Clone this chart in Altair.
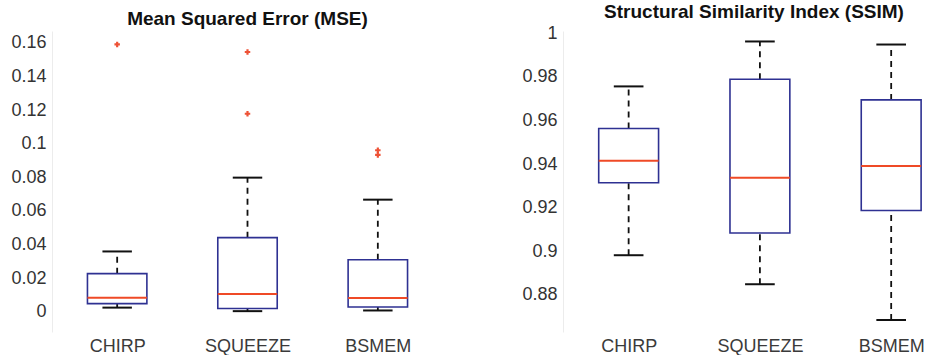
import json
import altair as alt
import pandas as pd

categories = ["CHIRP", "SQUEEZE", "BSMEM"]

mse_whisker_low = [0.0025, 0.0004, 0.0008]
mse_q1 = [0.0049, 0.0020, 0.0029]
mse_median = [0.0084, 0.0106, 0.0082]
mse_q3 = [0.0227, 0.0441, 0.0310]
mse_whisker_high = [0.0359, 0.0798, 0.0667]
mse_outlier_cat = ["CHIRP", "SQUEEZE", "SQUEEZE", "BSMEM", "BSMEM"]
mse_outlier_val = [0.159, 0.1545, 0.1178, 0.0961, 0.0933]

ssim_whisker_low = [0.8982, 0.8849, 0.8685]
ssim_q1 = [0.9314, 0.9084, 0.9187]
ssim_median = [0.9415, 0.9337, 0.9391]
ssim_q3 = [0.9563, 0.9789, 0.9694]
ssim_whisker_high = [0.9756, 0.9962, 0.9948]
ssim_outlier_cat = []
ssim_outlier_val = []

mse_ticks = [0, 0.02, 0.04, 0.06, 0.08, 0.1, 0.12, 0.14, 0.16]
ssim_ticks = [0.88, 0.9, 0.92, 0.94, 0.96, 0.98, 1.0]

BOX = "#2e3192"
MED = "#ef4a26"
OUT = "#ee5236"
FONT = "Liberation Sans"

label_expr = json.dumps(categories) + "[datum.value - 1]"


def panel(title, low, q1, med, q3, high, ocat, oval, ydomain, yticks, xdomain, width):
    stats = pd.DataFrame({
        "cat": categories,
        "pos": [i + 1 for i in range(len(categories))],
        "low": low, "q1": q1, "med": med, "q3": q3, "high": high,
    })
    outl = pd.DataFrame({
        "cat": ocat,
        "pos": [categories.index(c) + 1 for c in ocat],
        "val": oval,
    })
    xscale = alt.Scale(domain=xdomain, nice=False, zero=False)
    yscale = alt.Scale(domain=ydomain, nice=False, zero=False)
    xaxis = alt.Axis(values=[1, 2, 3], labelExpr=label_expr, title=None, ticks=False,
                     domain=False, grid=False, labelFontSize=18, labelFont=FONT,
                     labelColor="#3a3a3a", labelPadding=5)
    yaxis = alt.Axis(values=yticks, tickCount=len(yticks), format="~g", title=None,
                     ticks=False, domain=True, domainColor="#ececec", grid=False,
                     labelFontSize=18, labelFont=FONT, labelColor="#333333",
                     labelPadding=6, labelOverlap=False, labelSeparation=0)

    def X(f):
        return alt.X(f, type="quantitative", scale=xscale, axis=xaxis)

    def Y(f):
        return alt.Y(f, type="quantitative", scale=yscale, axis=yaxis)

    base = alt.Chart(stats).transform_calculate(
        bl="datum.pos - 0.228", br="datum.pos + 0.228",
        cl="datum.pos - 0.113", cr="datum.pos + 0.113",
    )
    upper_wh = base.mark_rule(color="#111111", strokeWidth=1.8, strokeDash=[6, 5]).encode(
        x=X("pos"), y=Y("q3"), y2="high:Q")
    lower_wh = base.mark_rule(color="#111111", strokeWidth=1.8, strokeDash=[6, 5]).encode(
        x=X("pos"), y=Y("low"), y2="q1:Q")
    cap_hi = base.mark_rule(color="#111111", strokeWidth=2).encode(
        x=X("cl"), x2="cr:Q", y=Y("high"))
    cap_lo = base.mark_rule(color="#111111", strokeWidth=2).encode(
        x=X("cl"), x2="cr:Q", y=Y("low"))
    box = base.mark_rect(fill="white", stroke=BOX, strokeWidth=1.6).encode(
        x=X("bl"), x2="br:Q", y=Y("q1"), y2="q3:Q")
    median = base.mark_rule(color=MED, strokeWidth=2).encode(
        x=X("bl"), x2="br:Q", y=Y("med"))
    layers = [upper_wh, lower_wh, cap_hi, cap_lo, box, median]
    if len(outl):
        pts = alt.Chart(outl).mark_point(shape="cross", filled=True, color=OUT,
                                         size=30, opacity=1).encode(
            x=X("pos"), y=Y("val"))
        layers.append(pts)
    return alt.layer(*layers).properties(
        width=width, height=301,
        title=alt.TitleParams(title, fontSize=19, fontWeight="bold", font=FONT,
                              color="#111111", anchor="middle", offset=2),
    )


left = panel("Mean Squared Error (MSE)", mse_whisker_low, mse_q1, mse_median, mse_q3,
             mse_whisker_high, mse_outlier_cat, mse_outlier_val,
             [-0.012, 0.167], mse_ticks, [0.5, 3.5], 391)
right = panel("Structural Similarity Index (SSIM)", ssim_whisker_low, ssim_q1, ssim_median,
              ssim_q3, ssim_whisker_high, ssim_outlier_cat, ssim_outlier_val,
              [0.863, 1.001], ssim_ticks, [0.5, 3.41], 382)

chart = alt.hconcat(left, right, spacing=78).properties(
    padding={"left": 10, "top": 3, "right": 0, "bottom": 0},
    background="white",
).configure_view(stroke="transparent", strokeWidth=0).configure_axis(labelOverlap=False)

chart.save("out.html", embed_options={"renderer": "svg", "actions": False})
